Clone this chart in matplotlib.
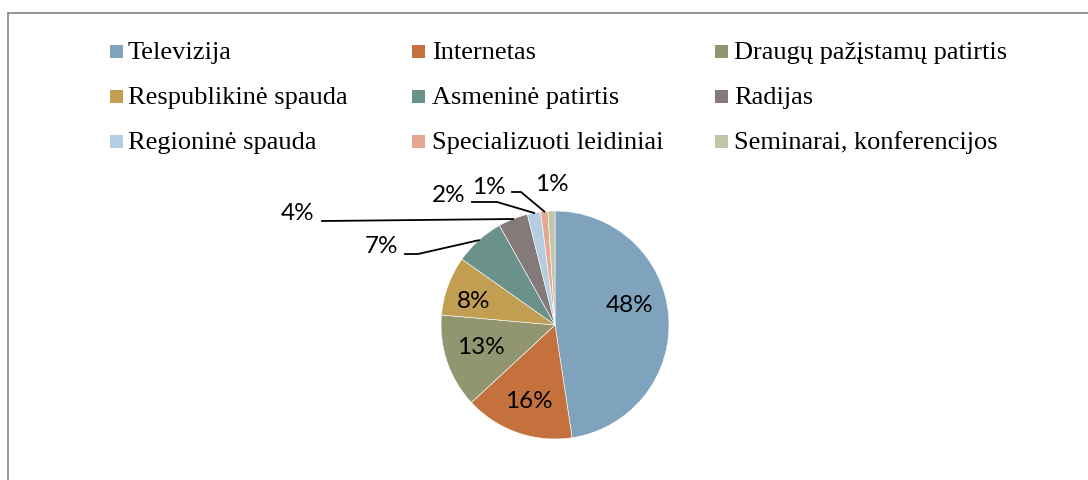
import numpy as np
import matplotlib.pyplot as plt

categories = ["Televizija", "Internetas", "Draugų pažįstamų patirtis",
              "Respublikinė spauda", "Asmeninė patirtis", "Radijas",
              "Regioninė spauda", "Specializuoti leidiniai", "Seminarai, konferencijos"]
shares = [47.6, 15.5, 13.3, 8.4, 7.1, 4.2, 1.9, 1.0, 1.0]
pct_labels = ["48%", "16%", "13%", "8%", "7%", "4%", "2%", "1%", "1%"]
colors = ["#7FA2BD", "#C4713D", "#919670", "#C29E52", "#6A928A",
          "#857A7A", "#B5CDE0", "#E6A791", "#C2C6A8"]

W, H, DPI = 1088, 481, 100
fig = plt.figure(figsize=(W / DPI, H / DPI), dpi=DPI)

# chart frame (only top and left edges fall inside the picture)
fig.add_artist(plt.Line2D([8 / W, 8 / W], [0, 1 - 13.5 / H], color="#8c8c8c", lw=1.3))
fig.add_artist(plt.Line2D([8 / W, 1], [1 - 13.5 / H, 1 - 13.5 / H], color="#8c8c8c", lw=1.3))

# pie axes: one data unit = pie radius in pixels
cx, cy, R = 555, 326, 114
ax = fig.add_axes([0, 0, 1, 1])
wedges, _ = ax.pie(shares, colors=colors, startangle=90, counterclock=False,
                   radius=1, center=(0, 0), frame=True,
                   wedgeprops=dict(edgecolor="white", linewidth=0.4))
ax.set_xlim(-cx / R, (W - cx) / R)
ax.set_ylim(-(H - cy) / R, cy / R)
ax.set_aspect("auto")
ax.axis("off")

lab_font = dict(family=["Lato", "DejaVu Sans"], fontsize=17.5, color="black")


def px(p):
    return (p[0] - cx) / R, (cy - p[1]) / R


# label centres in pixels (layout only)
label_pos = [(630, 305), (529, 402), (481, 348), (474, 301),
             (381, 247), (298, 214), (449, 196), (489, 188), (552, 185)]
line_start = [None, None, None, None, (405, 255), (322, 222), (472, 203), (512, 193), None]
line_knee = [None, None, None, None, (418, 255), (324, 222), (497, 203), (521, 193), None]

for w, lab, tp, ls, kn in zip(wedges, pct_labels, label_pos, line_start, line_knee):
    ax.text(*px(tp), lab, ha="center", va="center", **lab_font)
    if ls is not None:
        ang = np.deg2rad((w.theta1 + w.theta2) / 2)
        (x0, y0), (x1, y1) = px(ls), px(kn)
        ax.plot([x0, x1, np.cos(ang)], [y0, y1, np.sin(ang)], color="black", lw=1.3)

# legend, 3 columns laid out row by row
col_sq = [110, 412, 715]
col_tx = [128, 432, 734]
row_base = [59, 104, 149]
for i, name in enumerate(categories):
    r, c = divmod(i, 3)
    fig.patches.append(plt.Rectangle((col_sq[c] / W, 1 - row_base[r] / H), 13 / W, 13 / H,
                                     transform=fig.transFigure, facecolor=colors[i],
                                     edgecolor="none"))
    fig.text(col_tx[c] / W, 1 - row_base[r] / H, name, ha="left", va="baseline",
             family="Liberation Serif", fontsize=19)

fig.savefig("out.png", dpi=DPI, facecolor="white")
